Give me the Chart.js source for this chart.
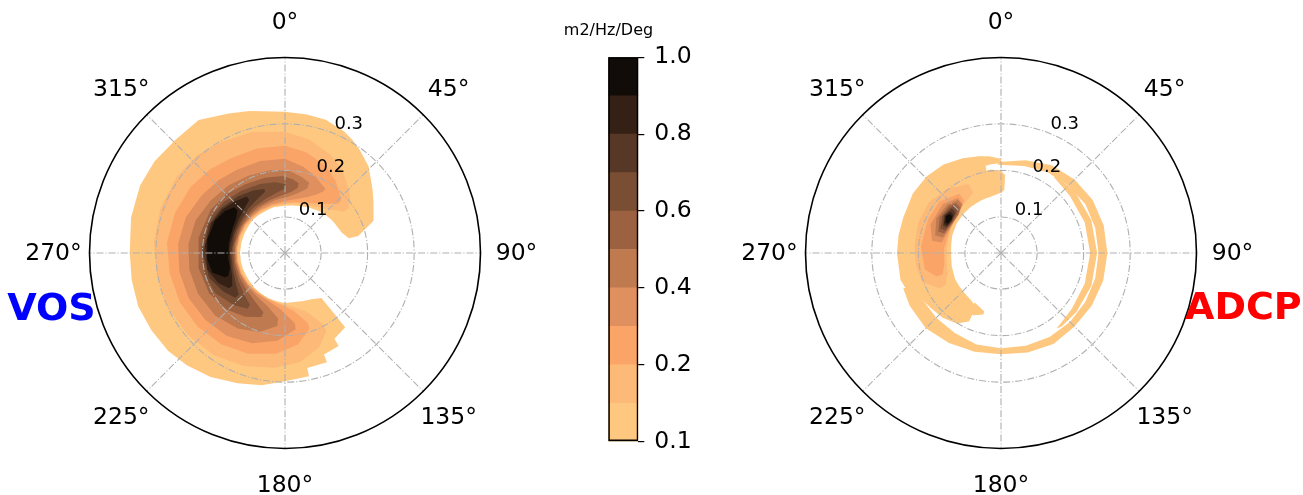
<!DOCTYPE html>
<html>
<head>
<meta charset="utf-8">
<script src="https://cdn.jsdelivr.net/npm/chart.js@4.4.1/dist/chart.umd.min.js"></script>
<style>
  html, body { margin: 0; padding: 0; background: #fff; }
  #wrap { position: relative; width: 1303px; height: 495px; overflow: hidden; background: #fff; }
  canvas { position: absolute; top: 0; }
</style>
</head>
<body>
<div id="wrap">
  <canvas id="vos" width="570" height="495" style="left:0px"></canvas>
  <canvas id="cbar" width="150" height="495" style="left:560px"></canvas>
  <canvas id="adcp" width="587" height="495" style="left:716px"></canvas>
</div>
<script>
// Contour levels (m2/Hz/Deg) and the colour of each band between two levels
const levels = [0.1, 0.15, 0.2, 0.3, 0.4, 0.5, 0.6, 0.7, 0.8, 0.9, 1.0];
const bandColors = ['#ffc880', '#fdb977', '#faa468', '#e0905e', '#bf7a50',
                    '#9c6141', '#7a4e33', '#573826', '#342015', '#120c08'];
const colorbarTicks = [0.1, 0.2, 0.4, 0.6, 0.8, 1.0];

// Polar axes: direction in degrees clockwise from north, radius is frequency (Hz)
const directionTicks = [0, 45, 90, 135, 180, 225, 270, 315];
const frequencyTicks = [0.1, 0.2, 0.3];
const frequencyMin = 0.0225;
const frequencyMax = 0.4425;

// Each band outline: rows of [direction, inner frequency, outer frequency]
// VOS spectrum
const vosBand0 = [
  [141, 0.147, 0.228], [150, 0.137, 0.235], [150, 0.137, 0.253], [159, 0.133, 0.256],
  [159, 0.133, 0.274], [169, 0.130, 0.274], [169, 0.130, 0.292], [180, 0.130, 0.298],
  [190, 0.128, 0.311], [200, 0.126, 0.320], [211, 0.124, 0.333],
  [221, 0.122, 0.343], [230, 0.120, 0.350], [240, 0.119, 0.354], [250, 0.119, 0.358],
  [260, 0.119, 0.357], [270, 0.119, 0.356], [283, 0.119, 0.362], [295, 0.119, 0.366],
  [305, 0.120, 0.365], [316, 0.122, 0.361], [327, 0.122, 0.363], [338, 0.122, 0.346],
  [346, 0.124, 0.337], [0, 0.124, 0.326], [9, 0.126, 0.324], [17, 0.128, 0.322],
  [26, 0.132, 0.313], [31, 0.134, 0.305], [36, 0.137, 0.296], [44, 0.141, 0.281],
  [54, 0.145, 0.255], [59, 0.147, 0.244], [70, 0.152, 0.225], [77, 0.163, 0.184]
];
const vosBand1 = [
  [152, 0.195, 0.212], [160, 0.156, 0.238], [172, 0.139, 0.259], [185, 0.132, 0.270],
  [200, 0.127, 0.281], [215, 0.124, 0.290], [230, 0.124, 0.296], [245, 0.124, 0.300],
  [260, 0.124, 0.302], [275, 0.124, 0.305], [290, 0.124, 0.307], [305, 0.124, 0.307],
  [318, 0.124, 0.305], [330, 0.125, 0.298], [345, 0.126, 0.292], [0, 0.128, 0.283],
  [12, 0.132, 0.272], [25, 0.137, 0.255], [35, 0.143, 0.238], [44, 0.154, 0.218],
  [50, 0.165, 0.206], [55, 0.178, 0.190]
];
const vosBand2 = [
  [162, 0.180, 0.193], [172, 0.147, 0.221], [185, 0.134, 0.240], [200, 0.128, 0.253],
  [215, 0.126, 0.262], [230, 0.126, 0.268], [245, 0.126, 0.272], [260, 0.126, 0.274],
  [275, 0.126, 0.277], [290, 0.126, 0.274], [305, 0.126, 0.270], [318, 0.126, 0.264],
  [330, 0.127, 0.257], [345, 0.128, 0.255], [0, 0.130, 0.253], [12, 0.134, 0.244],
  [25, 0.141, 0.229], [35, 0.152, 0.212], [42, 0.165, 0.197], [47, 0.178, 0.188]
];
const vosBand3 = [
  [172, 0.175, 0.188], [185, 0.143, 0.212], [200, 0.131, 0.229], [215, 0.128, 0.240],
  [230, 0.127, 0.246], [245, 0.127, 0.251], [260, 0.127, 0.253], [275, 0.127, 0.253],
  [290, 0.127, 0.249], [305, 0.128, 0.240], [318, 0.128, 0.234], [330, 0.129, 0.229],
  [345, 0.131, 0.227], [0, 0.134, 0.225], [12, 0.141, 0.212], [22, 0.152, 0.199],
  [28, 0.165, 0.190], [32, 0.178, 0.186]
];
const vosBand4 = [
  [186, 0.164, 0.180], [198, 0.143, 0.201], [212, 0.134, 0.214], [228, 0.130, 0.224],
  [245, 0.129, 0.229], [260, 0.129, 0.231], [275, 0.129, 0.231], [290, 0.129, 0.227],
  [305, 0.130, 0.218], [320, 0.131, 0.212], [335, 0.134, 0.206], [350, 0.138, 0.203],
  [2, 0.143, 0.201], [12, 0.154, 0.190], [19, 0.169, 0.182]
];
const vosBand5 = [
  [200, 0.158, 0.169], [212, 0.145, 0.184], [226, 0.137, 0.197], [242, 0.133, 0.207],
  [260, 0.132, 0.211], [280, 0.132, 0.211], [300, 0.132, 0.207], [315, 0.134, 0.201],
  [330, 0.137, 0.193], [345, 0.141, 0.190], [358, 0.147, 0.188], [6, 0.155, 0.182],
  [11, 0.165, 0.175]
];
const vosBand6 = [
  [214, 0.157, 0.167], [225, 0.147, 0.180], [240, 0.139, 0.195], [255, 0.135, 0.201],
  [275, 0.135, 0.203], [295, 0.135, 0.201], [310, 0.137, 0.194], [325, 0.141, 0.186],
  [340, 0.146, 0.180], [352, 0.153, 0.176], [360, 0.161, 0.171]
];
const vosBand7 = [
  [228, 0.156, 0.166], [238, 0.147, 0.179], [252, 0.140, 0.194], [270, 0.138, 0.199],
  [290, 0.138, 0.197], [305, 0.140, 0.190], [320, 0.146, 0.181], [333, 0.153, 0.173],
  [342, 0.161, 0.167]
];
const vosBand8 = [
  [238, 0.156, 0.165], [246, 0.147, 0.180], [258, 0.142, 0.193], [275, 0.142, 0.195],
  [292, 0.142, 0.193], [305, 0.145, 0.186], [316, 0.151, 0.177], [326, 0.160, 0.169]
];
const vosBand9 = [
  [248, 0.154, 0.162], [255, 0.145, 0.184], [265, 0.145, 0.190], [280, 0.145, 0.192],
  [295, 0.147, 0.188], [305, 0.151, 0.180], [312, 0.160, 0.169]
];

// ADCP spectrum
const adcpBand0West = [
  [205, 0.150, 0.185], [212, 0.143, 0.201], [222, 0.139, 0.210], [232, 0.137, 0.214],
  [240, 0.136, 0.220], [245, 0.134, 0.238],
  [255, 0.132, 0.246], [270, 0.130, 0.246], [280, 0.131, 0.246], [290, 0.134, 0.246],
  [304, 0.137, 0.251], [316, 0.139, 0.252], [327, 0.141, 0.249], [338, 0.143, 0.242],
  [346, 0.145, 0.236], [350, 0.146, 0.233]
];
const adcpBand0Tip = [
  [346, 0.145, 0.201], [353, 0.147, 0.203], [0, 0.152, 0.199], [3, 0.158, 0.190]
];
const adcpBand0Cap = [
  [346, 0.212, 0.236], [353, 0.214, 0.232], [0, 0.216, 0.225]
];
const adcpBand0Ring = [
  [358, 0.212, 0.218], [15, 0.216, 0.229], [30, 0.223, 0.240], [45, 0.227, 0.246],
  [60, 0.232, 0.250], [75, 0.232, 0.251], [90, 0.232, 0.251], [105, 0.232, 0.250],
  [120, 0.232, 0.248], [135, 0.232, 0.246], [150, 0.231, 0.248], [165, 0.229, 0.244],
  [180, 0.227, 0.240], [195, 0.226, 0.242], [210, 0.221, 0.246], [225, 0.219, 0.251],
  [240, 0.219, 0.249], [250, 0.219, 0.246]
];
const adcpBand0Inner = [
  [35, 0.221, 0.225], [50, 0.215, 0.229], [70, 0.214, 0.229], [90, 0.214, 0.229],
  [110, 0.214, 0.229], [128, 0.216, 0.228], [140, 0.221, 0.227], [143, 0.223, 0.225]
];
const adcpBand0Finger = [
  [196, 0.153, 0.160], [203, 0.146, 0.168], [208, 0.143, 0.172]
];
const adcpBand1 = [
  [240, 0.160, 0.175], [250, 0.145, 0.203], [262, 0.141, 0.207], [275, 0.139, 0.209],
  [290, 0.141, 0.212], [305, 0.145, 0.212], [320, 0.152, 0.203], [335, 0.165, 0.186]
];
const adcpBand2 = [
  [250, 0.156, 0.170], [258, 0.147, 0.190], [275, 0.145, 0.195], [295, 0.143, 0.195],
  [310, 0.147, 0.195], [325, 0.160, 0.178]
];
const adcpBand3 = [
  [280, 0.152, 0.173], [292, 0.145, 0.186], [310, 0.145, 0.186], [322, 0.156, 0.173]
];
const adcpBand4 = [
  [285, 0.152, 0.169], [298, 0.145, 0.180], [312, 0.145, 0.178], [321, 0.156, 0.169]
];
const adcpBand5 = [
  [289, 0.152, 0.165], [300, 0.146, 0.175], [312, 0.147, 0.173], [318, 0.154, 0.167]
];
const adcpBand6 = [
  [292, 0.152, 0.163], [302, 0.147, 0.171], [311, 0.150, 0.169], [315, 0.156, 0.165]
];
const adcpBand7 = [
  [295, 0.152, 0.160], [303, 0.148, 0.169], [312, 0.154, 0.165]
];
const adcpBand8 = [
  [297, 0.152, 0.160], [304, 0.150, 0.167], [309, 0.154, 0.163]
];
const adcpBand9 = [
  [299, 0.153, 0.159], [304, 0.151, 0.165], [307, 0.154, 0.161]
];

// Which band index each outline is painted with
const vosRegions = [
  [0, vosBand0], [1, vosBand1], [2, vosBand2], [3, vosBand3], [4, vosBand4],
  [5, vosBand5], [6, vosBand6], [7, vosBand7], [8, vosBand8], [9, vosBand9]
];
const adcpRegions = [
  [0, adcpBand0West], [0, adcpBand0Tip], [0, adcpBand0Cap], [0, adcpBand0Ring],
  [0, adcpBand0Inner], [0, adcpBand0Finger],
  [1, adcpBand1], [2, adcpBand2], [3, adcpBand3], [4, adcpBand4], [5, adcpBand5],
  [6, adcpBand6], [7, adcpBand7], [8, adcpBand8], [9, adcpBand9]
];

const FONT = '"DejaVu Sans", "Liberation Sans", sans-serif';
Chart.defaults.font.family = FONT;

// Direction/frequency -> cartesian value on the x/y scales
function toXY(dir, f) {
  const a = dir * Math.PI / 180;
  const r = f - frequencyMin;
  return { x: r * Math.sin(a), y: r * Math.cos(a) };
}

// Closed outline: outer edge along increasing direction, back along the inner edge
function outline(rows) {
  const outer = [], inner = [];
  let last = -Infinity;
  rows.forEach(([dir, fIn, fOut]) => {
    let d = dir;
    while (d < last) d += 360;
    last = d;
    outer.push(toXY(d, fOut));
    inner.push(toXY(d, fIn));
  });
  return outer.concat(inner.reverse());
}

// Grid, frame and labels of a polar panel, placed with the chart's own scales
function polarFrame(title, titleColor, titleX, titleY) {
  return {
    id: 'polarFrame',
    afterDatasetsDraw(chart) {
      const { ctx } = chart;
      const xs = chart.scales.x, ys = chart.scales.y;
      const cx = xs.getPixelForValue(0), cy = ys.getPixelForValue(0);
      const rad = f => xs.getPixelForValue(f - frequencyMin) - cx;
      const R = rad(frequencyMax);
      ctx.save();
      ctx.strokeStyle = '#b0b0b0';
      ctx.lineWidth = 1.1;
      ctx.setLineDash([7, 2, 1.1, 2]);
      frequencyTicks.forEach(f => {
        ctx.beginPath();
        ctx.arc(cx, cy, rad(f), 0, 2 * Math.PI);
        ctx.stroke();
      });
      directionTicks.forEach(d => {
        const a = d * Math.PI / 180;
        ctx.beginPath();
        ctx.moveTo(cx, cy);
        ctx.lineTo(cx + R * Math.sin(a), cy - R * Math.cos(a));
        ctx.stroke();
      });
      ctx.setLineDash([]);
      ctx.strokeStyle = '#000';
      ctx.lineWidth = 1.6;
      ctx.beginPath();
      ctx.arc(cx, cy, R, 0, 2 * Math.PI);
      ctx.stroke();

      ctx.fillStyle = '#000';
      ctx.font = '23.5px ' + FONT;
      ctx.textAlign = 'center';
      ctx.textBaseline = 'middle';
      directionTicks.forEach(d => {
        const a = d * Math.PI / 180;
        const dist = R + 36;
        ctx.fillText(d + '°', cx + dist * Math.sin(a), cy - dist * Math.cos(a) + 1);
      });

      ctx.font = '18px ' + FONT;
      ctx.textAlign = 'left';
      ctx.textBaseline = 'bottom';
      const la = 22.5 * Math.PI / 180;
      frequencyTicks.forEach(f => {
        const r = rad(f);
        ctx.fillText(f.toFixed(1), cx + r * Math.sin(la), cy - r * Math.cos(la));
      });

      ctx.font = 'bold 38px ' + FONT;
      ctx.fillStyle = titleColor;
      ctx.textBaseline = 'alphabetic';
      ctx.fillText(title, titleX, titleY);
      ctx.restore();
    }
  };
}

function polarChart(id, regions, frame) {
  const canvas = document.getElementById(id);
  const R = 195.5, cx = 285, cy = 253;
  const span = frequencyMax - frequencyMin;
  const datasets = regions.map(([band, rows]) => ({
    data: outline(rows),
    fill: 'shape',
    backgroundColor: bandColors[band],
    borderColor: bandColors[band],
    borderWidth: 0,
    pointRadius: 0,
    tension: 0,
    order: levels.length - band
  }));
  return new Chart(canvas, {
    type: 'line',
    data: { datasets },
    options: {
      responsive: false,
      animation: false,
      devicePixelRatio: 1,
      events: [],
      layout: {
        padding: { left: cx - R, right: canvas.width - cx - R, top: cy - R, bottom: canvas.height - cy - R }
      },
      scales: {
        x: { type: 'linear', min: -span, max: span, display: false },
        y: { type: 'linear', min: -span, max: span, display: false }
      },
      plugins: { legend: { display: false }, tooltip: { enabled: false } }
    },
    plugins: [frame]
  });
}

polarChart('vos', vosRegions, polarFrame('VOS', '#0000ff', 7.3, 320));
polarChart('adcp', adcpRegions, polarFrame('ADCP', '#ff0000', 469, 318.5));

// Colour bar: one floating bar per band, equal height per band
const cbTitle = {
  id: 'cbTitle',
  afterDraw(chart) {
    const { ctx } = chart;
    ctx.save();
    ctx.font = '16px ' + FONT;
    ctx.fillStyle = '#000';
    ctx.textAlign = 'center';
    ctx.textBaseline = 'middle';
    ctx.fillText('m2/Hz/Deg', 48.5, 31);
    ctx.restore();
  }
};
const cbDatasets = [{
  data: [[0, levels.length - 1]],
  backgroundColor: 'rgba(0,0,0,0)',
  borderColor: '#000',
  borderWidth: 1.2,
  borderSkipped: false
}].concat(bandColors.map((c, i) => ({
  data: [[i, i + 1]],
  backgroundColor: c,
  borderWidth: 0
})));
new Chart(document.getElementById('cbar'), {
  type: 'bar',
  data: { labels: [''], datasets: cbDatasets },
  options: {
    responsive: false,
    animation: false,
    devicePixelRatio: 1,
    events: [],
    datasets: { bar: { grouped: false, barPercentage: 1, categoryPercentage: 1 } },
    layout: { padding: { left: 48.3, right: 0, top: 57.3, bottom: 53.3 } },
    scales: {
      x: { display: false },
      y: {
        position: 'right',
        min: 0,
        max: levels.length - 1,
        afterBuildTicks: s => { s.ticks = colorbarTicks.map(v => ({ value: levels.indexOf(v) })); },
        afterFit: s => { s.width = 71.7; },
        ticks: {
          autoSkip: false,
          padding: 10,
          color: '#000',
          font: { size: 23.5, family: FONT },
          callback: v => levels[v].toFixed(1)
        },
        grid: { drawOnChartArea: false, drawTicks: true, tickLength: 6, color: '#000', lineWidth: 1.2 },
        border: { display: false }
      }
    },
    plugins: { legend: { display: false }, tooltip: { enabled: false } }
  },
  plugins: [cbTitle]
});
</script>
</body>
</html>
